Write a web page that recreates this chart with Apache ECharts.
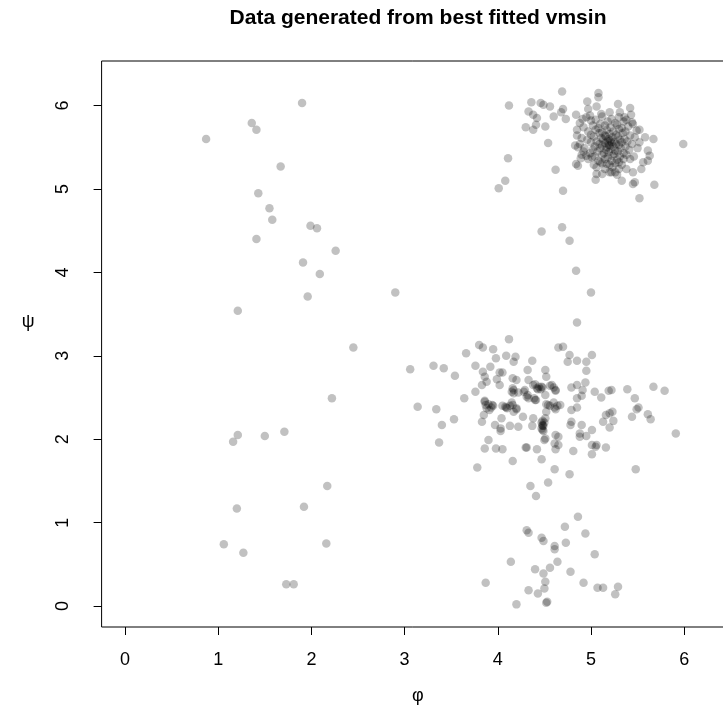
<!DOCTYPE html>
<html>
<head>
<meta charset="utf-8">
<script src="https://cdn.jsdelivr.net/npm/echarts@6/dist/echarts.min.js"></script>
<style>
html,body{margin:0;padding:0;background:#fff;}
#chart{width:723px;height:711px;}
</style>
</head>
<body>
<div id="chart"></div>
<script>
// Axis ticks
const xTicks = [0, 1, 2, 3, 4, 5, 6];
const yTicks = [0, 1, 2, 3, 4, 5, 6];

// Sparse points on the left side
const leftPoints = [
[1.90,6.03],[1.36,5.79],[1.41,5.71],[0.87,5.60],[1.67,5.27],[1.43,4.95],[1.55,4.77],[1.58,4.63],
[1.99,4.56],[2.06,4.53],[1.41,4.40],[2.26,4.26],[1.91,4.12],[2.09,3.98],[1.96,3.71],[2.90,3.76],
[1.21,3.54],[2.45,3.10],[2.22,2.49],[1.21,2.05],[1.16,1.97],[1.50,2.04],[1.71,2.09],[2.17,1.44],
[1.92,1.19],[1.20,1.17],[1.06,0.74],[1.27,0.64],[2.16,0.75],[1.73,0.26],[1.81,0.26]
];

// Sparse points between the two upper clusters
const gapPoints = [
[4.47,4.49],[4.69,4.54],[4.77,4.38],[4.84,4.02],[5.00,3.76],[4.85,3.40]
];

// Upper-right cluster, outer points
const topOuter = [
[4.12,6.00],[4.36,6.04],[4.46,6.03],[4.49,6.01],[4.56,5.99],[4.33,5.93],[4.38,5.89],[4.42,5.85],
[4.30,5.74],[4.38,5.71],[4.41,5.77],[4.51,5.75],[4.54,5.55],[4.11,5.37],[4.08,5.10],[4.01,5.01],
[4.69,6.17],[5.08,6.15],[5.08,6.10],[4.96,6.05],[4.70,5.96],[4.68,5.92],[5.06,5.99],[5.29,6.02],
[5.42,5.97],[5.43,5.89],[4.60,5.87],[4.73,5.84],[4.84,5.89],[4.97,5.96],[4.91,5.84],[4.99,5.88],
[4.62,5.23],[4.70,4.98],[4.84,5.30],[4.86,5.28],[5.06,5.18],[5.05,5.11],[5.52,4.89],[5.68,5.05],
[5.99,5.54],[5.67,5.60],[5.58,5.62],[5.45,5.06],[5.33,5.10],[5.22,5.20],[5.61,5.46],[5.63,5.40],
[5.61,5.34],[5.56,5.32],[5.54,5.24],[5.45,5.20],[5.38,5.24],[5.20,5.20],[5.26,5.20],[5.47,5.08],
[5.20,5.92],[5.11,5.90],[5.31,5.92],[5.36,5.86],[5.44,5.80],[5.49,5.70],[4.85,5.64],[4.83,5.52],
[4.86,5.50],[4.92,5.45],[4.95,5.40],[5.01,5.38],[4.89,5.37],[5.10,5.32],[5.17,5.30],[5.30,5.32],
[5.35,5.36]
];

// Upper-right cluster, dense core
const topCore = [
[4.95,5.86],[5.05,5.83],[5.12,5.87],[5.22,5.84],[5.30,5.86],[5.38,5.83],
[4.88,5.79],[5.00,5.82],[5.10,5.78],[5.18,5.81],[5.26,5.79],[5.35,5.81],[5.45,5.78],
[4.92,5.74],[5.02,5.76],[5.08,5.73],[5.15,5.76],[5.21,5.74],[5.28,5.77],[5.33,5.73],[5.40,5.75],
[4.85,5.71],[4.97,5.69],[5.05,5.71],[5.12,5.68],[5.17,5.71],[5.24,5.69],[5.30,5.72],[5.37,5.69],[5.52,5.71],
[5.00,5.65],[5.09,5.67],[5.15,5.64],[5.20,5.66],[5.27,5.65],[5.34,5.67],[5.42,5.64],
[4.90,5.61],[5.03,5.63],[5.11,5.61],[5.16,5.63],[5.19,5.60],[5.23,5.62],[5.29,5.63],[5.36,5.60],[5.47,5.62],
[4.96,5.59],[5.06,5.57],[5.13,5.59],[5.18,5.57],[5.21,5.58],[5.25,5.56],[5.31,5.59],[5.39,5.57],
[4.88,5.54],[5.00,5.56],[5.09,5.54],[5.15,5.55],[5.19,5.53],[5.22,5.56],[5.27,5.54],[5.33,5.56],[5.44,5.54],[5.52,5.56],
[5.04,5.51],[5.12,5.52],[5.17,5.50],[5.20,5.52],[5.24,5.51],[5.30,5.53],[5.37,5.51],
[4.93,5.49],[5.02,5.47],[5.10,5.49],[5.16,5.47],[5.21,5.48],[5.26,5.46],[5.32,5.49],[5.41,5.47],[5.50,5.49],
[4.99,5.43],[5.07,5.45],[5.14,5.43],[5.19,5.44],[5.25,5.42],[5.29,5.45],[5.35,5.43],
[4.90,5.41],[5.04,5.39],[5.12,5.41],[5.18,5.38],[5.23,5.40],[5.31,5.39],[5.38,5.41],[5.46,5.39],
[4.97,5.36],[5.08,5.34],[5.15,5.36],[5.22,5.34],[5.28,5.35],[5.42,5.36],
[5.03,5.29],[5.12,5.31],[5.20,5.29],[5.26,5.31],[5.33,5.29],
[5.06,5.26],[5.15,5.24],[5.23,5.26],[5.30,5.24],
[5.12,5.18],[5.28,5.17]
];

// Middle cluster
const midPoints = [
[4.12,3.20],[3.80,3.13],[3.84,3.10],[3.95,3.08],[3.66,3.03],[3.98,2.97],[4.09,3.00],[4.19,2.99],
[4.17,2.93],[4.37,2.94],[3.06,2.84],[3.31,2.88],[3.42,2.85],[3.54,2.76],[3.76,2.88],[3.92,2.87],
[3.84,2.81],[3.86,2.75],[3.88,2.69],[4.02,2.80],[4.05,2.80],[3.99,2.72],[4.02,2.65],[3.83,2.65],
[3.76,2.57],[3.64,2.49],[4.32,2.83],[4.51,2.83],[4.16,2.73],[4.20,2.71],[4.17,2.59],[4.16,2.61],
[4.33,2.71],[4.38,2.65],[4.42,2.61],[4.29,2.59],[4.31,2.51],[4.40,2.47],[4.51,2.53],[4.52,2.75],
[3.14,2.39],[3.34,2.36],[3.40,2.17],[3.53,2.24],[3.37,1.96],[3.86,2.46],[3.87,2.41],[3.88,2.37],
[3.94,2.41],[3.83,2.21],[3.85,2.29],[4.04,2.25],[3.97,2.17],[4.03,2.13],[4.03,2.10],[4.13,2.16],
[4.22,2.15],[4.08,2.39],[4.10,2.37],[4.15,2.44],[4.20,2.37],[4.17,2.33],[4.27,2.27],[4.37,2.16],
[4.38,2.25],[4.48,2.22],[4.48,2.16],[4.49,2.10],[3.90,1.99],[3.86,1.89],[3.98,1.89],[4.05,1.88],
[4.16,1.74],[4.30,1.90],[4.31,1.90],[4.42,1.88],[4.47,1.76],[3.78,1.66],[4.35,1.44],[4.41,1.32],
[4.54,1.48],
[4.70,3.11],[4.77,3.01],[4.75,2.93],[4.85,2.94],[4.95,2.93],[5.01,3.01],[4.95,2.82],[4.58,2.65],
[4.56,2.64],[4.47,2.63],[4.62,2.58],[4.79,2.62],[4.85,2.65],[4.94,2.68],[4.91,2.59],[4.90,2.52],
[4.85,2.49],[5.04,2.57],[5.11,2.50],[5.19,2.58],[5.22,2.59],[5.39,2.60],[5.67,2.63],[5.79,2.58],
[5.47,2.49],[5.51,2.38],[5.49,2.36],[5.61,2.30],[5.64,2.24],[5.44,2.27],[5.23,2.33],[5.20,2.31],
[5.16,2.29],[5.13,2.21],[5.20,2.14],[5.24,2.22],[5.91,2.07],[4.54,2.41],[4.61,2.38],[4.62,2.36],
[4.67,2.41],[4.52,2.33],[4.79,2.35],[4.85,2.38],[4.51,2.25],[4.50,2.20],[4.79,2.21],[4.78,2.17],
[4.90,2.17],[4.88,2.07],[4.88,2.03],[4.95,2.04],[5.01,2.11],[4.65,2.03],[4.61,1.95],[4.62,1.88],
[5.01,1.93],[5.06,1.93],[5.05,1.91],[5.16,1.90],[5.01,1.82],[4.81,1.86],[4.61,1.64],[4.77,1.58],
[5.48,1.64],
[4.65,3.10],[4.40,2.66],[4.44,2.63],[4.46,2.60],[4.48,2.62],[4.43,2.60],[4.60,2.62],[4.62,2.59],
[4.15,2.57],[4.17,2.55],[4.22,2.56],[4.28,2.57],[4.32,2.53],[4.33,2.49],[4.39,2.49],[4.41,2.47],
[3.86,2.45],[3.90,2.42],[3.93,2.38],[3.95,2.40],[3.91,2.35],[4.05,2.40],[4.09,2.38],[4.13,2.40],
[4.16,2.41],[4.20,2.36],[4.52,2.42],[4.56,2.40],[4.60,2.44],[4.64,2.40],[4.47,2.20],[4.48,2.17],
[4.47,2.13],[4.49,2.16],[4.48,2.11],[4.51,2.01],[4.50,1.99],[4.62,2.05],[4.65,1.93]
];

// Bottom cluster
const bottomPoints = [
[4.86,1.07],[4.72,0.95],[4.94,0.87],[4.31,0.91],[4.33,0.88],[4.47,0.82],[4.49,0.78],[4.61,0.72],
[4.61,0.68],[4.73,0.76],[5.04,0.62],[4.14,0.53],[4.64,0.53],[4.40,0.44],[4.49,0.39],[4.56,0.46],
[4.78,0.41],[3.87,0.28],[4.51,0.29],[4.50,0.21],[4.33,0.19],[4.43,0.15],[4.92,0.28],[5.07,0.22],
[5.13,0.22],[5.29,0.23],[5.26,0.14],[4.20,0.02],[4.52,0.04],[4.53,0.05]
];

const allPoints = [].concat(leftPoints, gapPoints, topOuter, topCore, midPoints, bottomPoints);

const FONT = '"Liberation Sans", Arial, Helvetica, sans-serif';
const chart = echarts.init(document.getElementById('chart'));
chart.setOption({
  animation: false,
  backgroundColor: '#ffffff',
  title: {
    text: 'Data generated from best fitted vmsin',
    left: 413, top: 3, textAlign: 'center',
    textStyle: { fontFamily: FONT, fontSize: 21, fontWeight: 'bold', color: '#000' }
  },
  grid: {
    left: 101.6, top: 61, width: 632.4, height: 566,
    containLabel: false, outerBoundsMode: 'none',
    show: true, borderColor: '#000', borderWidth: 1, backgroundColor: 'transparent'
  },
  xAxis: {
    type: 'value', min: -0.2513, max: 6.5345,
    name: 'φ', nameLocation: 'middle', nameGap: 60,
    nameTextStyle: { fontFamily: FONT, fontSize: 18, color: '#000' },
    axisLine: { show: false, onZero: false },
    axisTick: { show: true, inside: false, customValues: xTicks, length: 8, lineStyle: { color: '#000', width: 1 } },
    axisLabel: { customValues: xTicks, margin: 24, fontFamily: FONT, fontSize: 18, color: '#000' },
    splitLine: { show: false }
  },
  yAxis: {
    type: 'value', min: -0.2513, max: 6.5345,
    name: 'ψ', nameLocation: 'middle', nameGap: 67, nameRotate: 0,
    nameTextStyle: { fontFamily: FONT, fontSize: 18, color: '#000', verticalAlign: 'bottom', lineHeight: 44 },
    axisLine: { show: false, onZero: false },
    axisTick: { show: true, inside: false, customValues: yTicks, length: 8, lineStyle: { color: '#000', width: 1 } },
    axisLabel: { customValues: yTicks, rotate: 90, margin: 30, fontFamily: FONT, fontSize: 18, color: '#000' },
    splitLine: { show: false }
  },
  series: [{
    type: 'scatter',
    data: allPoints,
    symbol: 'circle',
    symbolSize: 8.5,
    itemStyle: { color: 'rgba(0,0,0,0.3)' },
    silent: true
  }]
});
</script>
</body>
</html>
